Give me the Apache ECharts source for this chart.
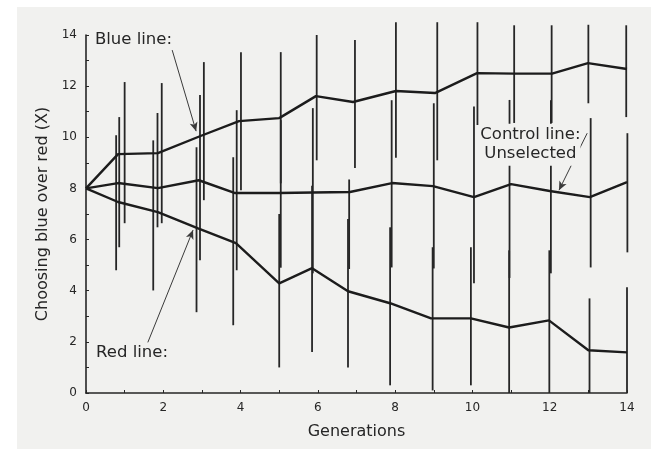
<!DOCTYPE html>
<html>
<head>
<meta charset="utf-8">
<script src="https://cdn.jsdelivr.net/npm/echarts@6/dist/echarts.min.js"></script>
<style>
html,body{margin:0;padding:0;background:#ffffff;}
#chart{width:651px;height:449px;}
</style>
</head>
<body>
<div id="chart"></div>
<script>
// ---- data ----
const xTicks = [0, 2, 4, 6, 8, 10, 12, 14];
const yTicks = [0, 2, 4, 6, 8, 10, 12, 14];

const blueX = [0, 0.83, 1.86, 2.98, 3.96, 5.0, 5.95, 6.91, 8.02, 9.03, 10.12, 11.08, 12.06, 12.99, 14.0];
const blueY = [8.0, 9.34, 9.38, 10.06, 10.63, 10.75, 11.61, 11.38, 11.81, 11.73, 12.51, 12.49, 12.49, 12.90, 12.67];
const controlX = [0, 0.83, 1.86, 2.92, 3.86, 5.0, 5.87, 6.83, 7.92, 8.98, 10.04, 11.0, 12.0, 13.04, 14.0];
const controlY = [8.0, 8.21, 8.01, 8.32, 7.82, 7.82, 7.84, 7.86, 8.21, 8.09, 7.66, 8.17, 7.9, 7.66, 8.25];
const redX = [0, 0.83, 1.86, 2.9, 3.88, 5.0, 5.85, 6.78, 7.87, 8.93, 9.96, 10.95, 11.98, 13.0, 14.0];
const redY = [8.0, 7.47, 7.07, 6.44, 5.86, 4.29, 4.88, 3.98, 3.51, 2.92, 2.92, 2.56, 2.84, 1.67, 1.59];

// vertical range bars
const blueBarX = [1.0, 1.96, 3.05, 4.01, 5.04, 5.97, 6.96, 8.02, 9.09, 10.13, 11.08, 12.05, 13.0, 13.98];
const blueHigh = [12.16, 12.12, 12.94, 13.33, 13.33, 14.0, 13.8, 14.5, 14.5, 14.5, 14.38, 14.38, 14.4, 14.38];
const blueLow  = [6.64, 6.64, 7.54, 7.93, 8.2, 9.1, 8.8, 9.2, 9.1, 10.48, 10.56, 10.56, 11.33, 10.79];
const controlBarX = [0.86, 1.85, 2.95, 3.9, 5.04, 5.87, 6.81, 7.91, 9.0, 10.04, 10.96, 12.03, 13.06, 14.01];
const controlHigh = [10.79, 10.95, 11.65, 11.06, 10.67, 11.14, 8.35, 11.45, 11.33, 11.2, 11.46, 11.45, 10.75, 10.16];
const controlLow  = [5.7, 6.48, 5.19, 4.8, 4.9, 4.68, 4.85, 4.91, 4.87, 4.29, 4.5, 4.68, 4.91, 5.5];
const redBarX = [0.78, 1.74, 2.86, 3.81, 5.0, 5.85, 6.78, 7.87, 8.97, 9.96, 10.95, 11.99, 13.03, 14.0];
const redHigh = [10.08, 9.88, 9.61, 9.22, 7.0, 8.1, 6.8, 6.48, 5.7, 5.7, 5.58, 5.58, 3.7, 4.14];
const redLow  = [4.8, 4.01, 3.16, 2.65, 1.0, 1.6, 1.0, 0.3, 0.1, 0.3, 0.0, 0.0, 0.0, 0.0];

// annotations (data coordinates)
const blueLabel = {text: 'Blue line:', at: [0.23, 13.8]};
const redLabel = {text: 'Red line:', at: [0.26, 1.59]};
const controlLabel = {text: 'Control line:\nUnselected', at: [11.5, 9.71]};
const arrows = [
  [[2.23, 13.41], [2.85, 10.24]],
  [[1.6, 1.98], [2.77, 6.37]],
  [[12.97, 10.16], [12.24, 7.93]]
];

// ---- chart ----
const INK = '#262626';
const BG = '#f1f1ef';
const FONT = '"DejaVu Sans", sans-serif';

function pairs(xs, ys) { return xs.map((x, i) => [x, ys[i]]); }
function barSeries(xs, lows, highs) {
  return {
    type: 'custom',
    silent: true,
    clip: false,
    z: 2,
    data: xs.map((x, i) => [x, lows[i], highs[i]]),
    encode: {x: 0, y: [1, 2]},
    renderItem: function (params, api) {
      const a = api.coord([api.value(0), api.value(1)]);
      const b = api.coord([api.value(0), api.value(2)]);
      return {type: 'line', shape: {x1: a[0], y1: a[1], x2: b[0], y2: b[1]},
        style: {stroke: INK, lineWidth: 1.8}};
    }
  };
}
function lineSeries(xs, ys) {
  return {type: 'line', data: pairs(xs, ys), showSymbol: false, symbol: 'none', silent: true, z: 3,
    lineStyle: {color: '#1c1c1c', width: 2.4}};
}

const chart = echarts.init(document.getElementById('chart'), null, {renderer: 'canvas'});
const lineWithArrows = lineSeries(blueX, blueY);
lineWithArrows.markLine = {
  silent: true, animation: false,
  symbol: ['none', 'arrow'], symbolSize: [6, 9],
  label: {show: false},
  lineStyle: {color: '#3a3a3a', width: 1, type: 'solid'},
  data: arrows.map(a => [{coord: a[0]}, {coord: a[1]}])
};

chart.setOption({
  animation: false,
  backgroundColor: '#ffffff',
  graphic: [{type: 'rect', z: -10, shape: {x: 17, y: 7, width: 640, height: 450}, style: {fill: BG}}],
  grid: {left: 86, right: 24, top: 35, bottom: 56},
  xAxis: {
    type: 'value', min: 0, max: 14, interval: 1,
    name: 'Generations', nameLocation: 'middle', nameGap: 31,
    nameTextStyle: {fontFamily: FONT, fontSize: 16, color: INK},
    axisLine: {lineStyle: {color: INK, width: 1.6}},
    axisTick: {show: true, inside: true, length: 3, lineStyle: {color: INK}},
    axisLabel: {fontFamily: FONT, fontSize: 12, color: INK, margin: 9,
      formatter: v => xTicks.indexOf(v) >= 0 ? String(v) : ''},
    splitLine: {show: false}
  },
  yAxis: {
    type: 'value', min: 0, max: 14, interval: 1,
    name: 'Choosing blue over red (X)', nameLocation: 'middle', nameGap: 19,
    nameTextStyle: {fontFamily: FONT, fontSize: 16, color: INK},
    axisLine: {show: true, lineStyle: {color: INK, width: 1.6}},
    axisTick: {show: true, inside: true, length: 3, lineStyle: {color: INK}},
    axisLabel: {fontFamily: FONT, fontSize: 12, color: INK, margin: 9,
      formatter: v => yTicks.indexOf(v) >= 0 ? String(v) : ''},
    splitLine: {show: false}
  },
  series: [
    barSeries(blueBarX, blueLow, blueHigh),
    barSeries(controlBarX, controlLow, controlHigh),
    barSeries(redBarX, redLow, redHigh),
    lineWithArrows,
    lineSeries(controlX, controlY),
    lineSeries(redX, redY)
  ]
});

function toPx(p) { return chart.convertToPixel({gridIndex: 0}, p); }
const pb = toPx(blueLabel.at), pr = toPx(redLabel.at), pc = toPx(controlLabel.at);
const AFONT = '16.5px ' + FONT;
chart.setOption({
  graphic: [
    {type: 'rect', z: -10, shape: {x: 17, y: 7, width: 640, height: 450}, style: {fill: BG}},
    {type: 'text', z: 10, x: pb[0], y: pb[1], style: {text: blueLabel.text, font: AFONT, fill: INK, verticalAlign: 'middle', align: 'left'}},
    {type: 'text', z: 10, x: pr[0], y: pr[1], style: {text: redLabel.text, font: AFONT, fill: INK, verticalAlign: 'middle', align: 'left'}},
    {type: 'text', z: 10, x: pc[0], y: pc[1], style: {text: controlLabel.text, font: AFONT, fill: INK, verticalAlign: 'middle', align: 'center', lineHeight: 19, backgroundColor: BG, padding: [2, 0]}}
  ]
});
</script>
</body>
</html>
